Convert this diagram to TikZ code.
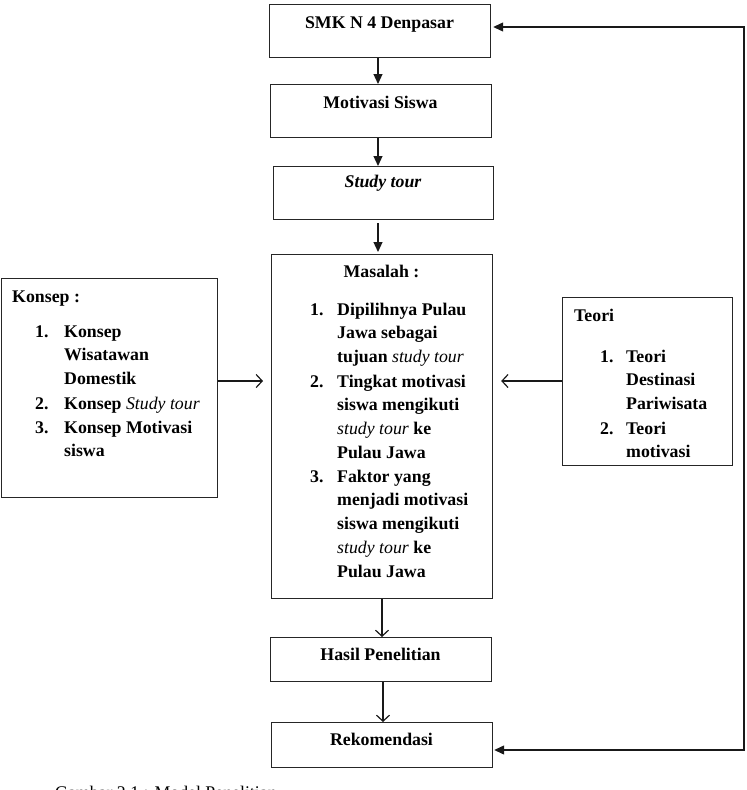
\documentclass[tikz,border=0pt]{standalone}
\usepackage{fontspec}
\setmainfont{Liberation Serif}
\usetikzlibrary{arrows.meta}
\begin{document}
\begin{tikzpicture}[x=1pt,y=-1pt,
  box/.style={draw=black!85, line width=1.2pt, anchor=north west, inner sep=0pt},
  txt/.style={font=\fontsize{17.8}{23.8}\selectfont\bfseries, inner sep=0pt},
  lst/.style={txt, anchor=base west},
  fa/.style={draw=black!90, line width=1.2pt, -{Triangle[length=10pt,width=9pt]}},
  fb/.style={draw=black!90, line width=1.2pt, {Triangle[length=10pt,width=9pt]}-{Triangle[length=10pt,width=9pt]}},
  oa/.style={draw=black!90, line width=1.2pt, -{Straight Barb[length=6pt,width=13pt]}}]
\useasboundingbox (0,0) rectangle (747,790);
% boxes
\node[box, minimum width=221pt, minimum height=53pt] (smk) at (269,4) {};
\node[box, minimum width=221pt, minimum height=53pt] (mot) at (270,84) {};
\node[box, minimum width=220pt, minimum height=53pt] (study) at (273,166) {};
\node[box, minimum width=221pt, minimum height=344pt] (mas) at (271,254) {};
\node[box, minimum width=221pt, minimum height=44pt] (hasil) at (270,637) {};
\node[box, minimum width=221pt, minimum height=45pt] (rek) at (271,722) {};
\node[box, minimum width=216pt, minimum height=219pt] (konsep) at (1,278) {};
\node[box, minimum width=170pt, minimum height=168pt] (teori) at (562,297) {};
% titles
\node[txt, anchor=base] (tsmk) at (379.5,28) {SMK N 4 Denpasar};
\node[txt, anchor=base] (tmot) at (380.5,108) {Motivasi Siswa};
\node[txt, anchor=base] (tstudy) at (383,187) {\itshape Study tour};
\node[txt, anchor=base] (tmas) at (381.5,277) {Masalah :};
\node[txt, anchor=base] (thasil) at (380.5,660) {Hasil Penelitian};
\node[txt, anchor=base] (trek) at (381.5,745) {Rekomendasi};
\node[lst] (tkon) at (12,302) {Konsep :};
\node[lst] (tteo) at (574,321) {Teori};
% Masalah list
\node[lst] (mn1) at (310,315) {1.};
\node[lst] (mt1) at (337,315) {\begin{tabular}[t]{@{}l@{}}Dipilihnya Pulau\\Jawa sebagai\\tujuan \textnormal{\itshape study tour}\end{tabular}};
\node[lst] (mn2) at (310,387) {2.};
\node[lst] (mt2) at (337,387) {\begin{tabular}[t]{@{}l@{}}Tingkat motivasi\\siswa mengikuti\\\textnormal{\itshape study tour} ke\\Pulau Jawa\end{tabular}};
\node[lst] (mn3) at (310,482) {3.};
\node[lst] (mt3) at (337,482) {\begin{tabular}[t]{@{}l@{}}Faktor yang\\menjadi motivasi\\siswa mengikuti\\\textnormal{\itshape study tour} ke\\Pulau Jawa\end{tabular}};
% Konsep list
\node[lst] (kn1) at (35,337) {1.};
\node[lst] (kt1) at (64,337) {\begin{tabular}[t]{@{}l@{}}Konsep\\Wisatawan\\Domestik\end{tabular}};
\node[lst] (kn2) at (35,409) {2.};
\node[lst] (kt2) at (64,409) {Konsep \textnormal{\itshape Study tour}};
\node[lst] (kn3) at (35,433) {3.};
\node[lst] (kt3) at (64,433) {\begin{tabular}[t]{@{}l@{}}Konsep Motivasi\\siswa\end{tabular}};
% Teori list
\node[lst] (tn1) at (600,362) {1.};
\node[lst] (tt1) at (626,362) {\begin{tabular}[t]{@{}l@{}}Teori\\Destinasi\\Pariwisata\end{tabular}};
\node[lst] (tn2) at (600,434) {2.};
\node[lst] (tt2) at (626,434) {\begin{tabular}[t]{@{}l@{}}Teori\\motivasi\end{tabular}};
% caption (cut by the page edge, as in the reference)
\node[anchor=base west, inner sep=0pt, font=\fontsize{17.8}{23.8}\selectfont] (cap) at (55,798) {Gambar 2.1 : Model Penelitian};
% helper coordinates
\coordinate (xa) at (378,0);
\coordinate (xb) at (382,0);
\coordinate (xc) at (383,0);
\coordinate (ya) at (0,381);
\coordinate (fbt) at (744,27);
\coordinate (fbb) at (744,750);
% connectors
\draw[fa] (smk.south -| xa) -- (mot.north -| xa);
\draw[fa] (mot.south -| xa) -- (study.north -| xa);
\draw[fa] ([yshift=-3pt]study.south -| xa) -- ([yshift=2pt]mas.north -| xa);
\draw[oa] (mas.south -| xb) -- (hasil.north -| xb);
\draw[oa] (hasil.south -| xc) -- (rek.north -| xc);
\draw[oa] (konsep.east |- ya) -- ([xshift=-8pt]mas.west |- ya);
\draw[oa] (teori.west |- ya) -- ([xshift=8pt]mas.east |- ya);
\draw[fb] ([xshift=2pt]smk.east |- fbt) -- (fbt) -- (fbb) -- ([xshift=1pt]rek.east |- fbb);
\end{tikzpicture}
\end{document}
